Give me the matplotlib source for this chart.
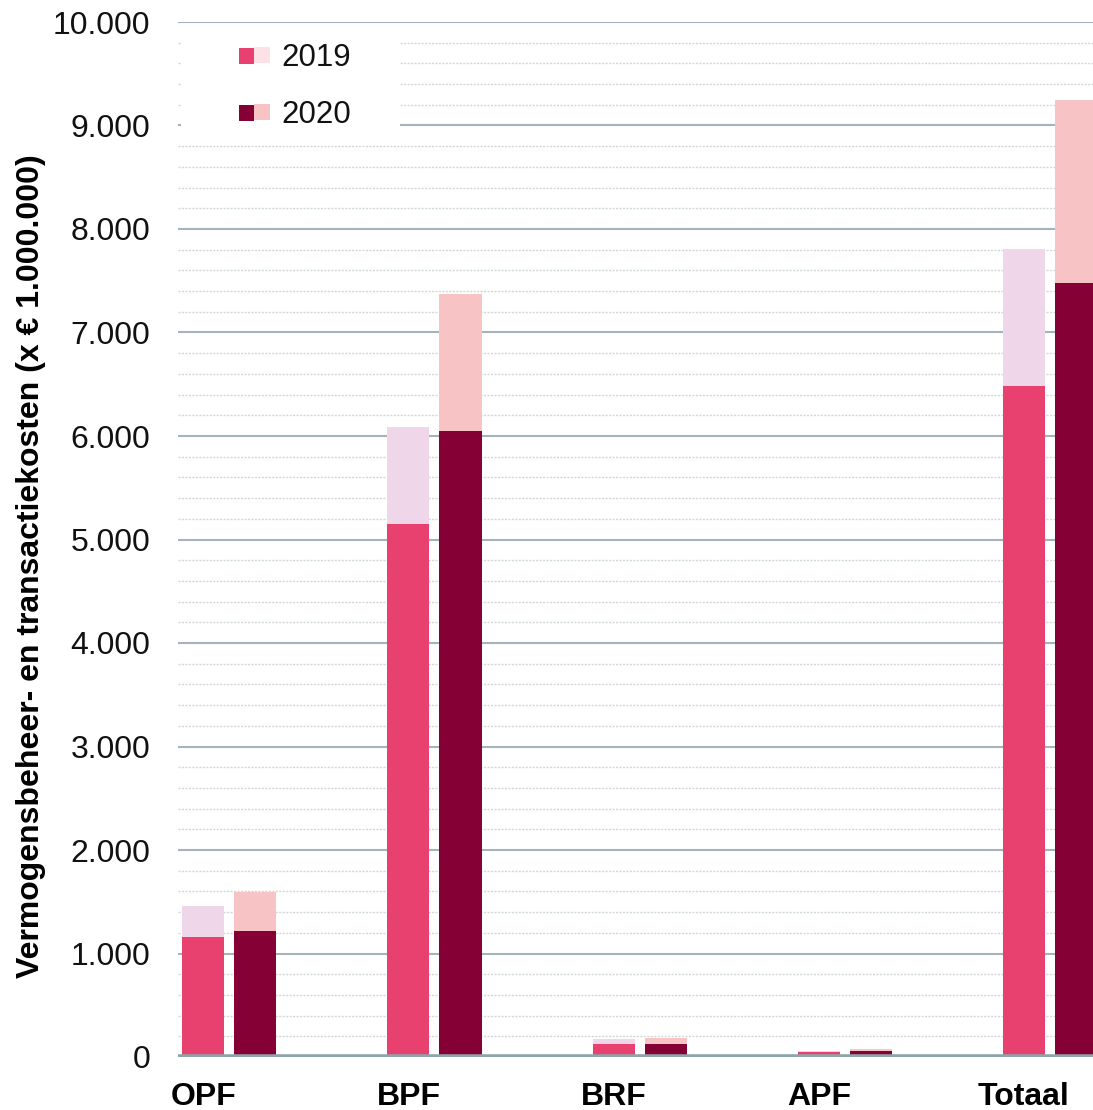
import matplotlib
matplotlib.use("Agg")
import matplotlib.pyplot as plt
from matplotlib.patches import Rectangle
from matplotlib.ticker import FuncFormatter, MultipleLocator
import numpy as np

plt.rcParams['font.family'] = ['Liberation Sans', 'DejaVu Sans']

categories = ["OPF", "BPF", "BRF", "APF", "Totaal"]
base_2019 = [1158, 5145, 123, 45, 6486]
total_2019 = [1457, 6091, 171, 55, 7809]
base_2020 = [1216, 6052, 130, 58, 7481]
total_2020 = [1593, 7375, 180, 80, 9247]
years = ["2019", "2020"]

c19_dark = "#E8406F"
c19_light = "#EFD7E9"
c19_leg_light = "#FCE1E7"
c20_dark = "#850034"
c20_light = "#F8C3C4"

W, H = 1093, 1110
fig = plt.figure(figsize=(W/100, H/100), dpi=100)
ax = fig.add_axes([178/W, 1-1057/H, (W-178)/W, (1057-22)/H])

x = np.arange(len(categories))
w = 0.205
off = 0.127
b19 = np.array(base_2019); t19 = np.array(total_2019)
b20 = np.array(base_2020); t20 = np.array(total_2020)

ax.bar(x - off, b19, w, color=c19_dark, zorder=3)
ax.bar(x - off, t19 - b19, w, bottom=b19, color=c19_light, zorder=3)
ax.bar(x + off, b20, w, color=c20_dark, zorder=3)
ax.bar(x + off, t20 - b20, w, bottom=b20, color=c20_light, zorder=3)

ax.set_xlim(-0.25, 4.21)
ax.set_ylim(0, 10000)
ax.yaxis.set_major_locator(MultipleLocator(1000))
ax.yaxis.set_minor_locator(MultipleLocator(200))
ax.yaxis.set_major_formatter(FuncFormatter(lambda v, p: f"{int(v):,}".replace(",", ".")))
ax.grid(axis='y', which='major', color='#A3B5B9', linewidth=1.5, zorder=0)
ax.grid(axis='y', which='minor', color='#D0D7D9', linewidth=1.0, linestyle=(0, (1.5, 1)), zorder=0)
ax.set_axisbelow(True)
ax.axhline(0, color='#8EA5AA', linewidth=4, zorder=4)
for s in ax.spines.values():
    s.set_visible(False)
ax.tick_params(axis='both', which='both', length=0)
ax.tick_params(axis='y', labelsize=23, pad=20, labelcolor='#111111')
ax.set_xticks(x - off)
ax.set_xticklabels(categories, fontsize=23, fontweight='bold')
ax.tick_params(axis='x', pad=18)

fig.text(31/W, 1-566/H, "Vermogensbeheer- en transactiekosten (x € 1.000.000)",
         rotation=90, ha='center', va='center', fontsize=23, fontweight='bold')

# legend drawn manually (white box covering gridlines)
def fx(px): return px / W
def fy(py): return 1 - py / H

fig.patches.append(Rectangle((fx(181), fy(131)), fx(400) - fx(181), fy(30) - fy(131),
                             transform=fig.transFigure, facecolor='white', edgecolor='none', zorder=5))
leg_rows = [(c19_dark, c19_leg_light, 55), (c20_dark, c20_light, 112)]
for (cd, cl, yc), label in zip(leg_rows, years):
    fig.patches.append(Rectangle((fx(239), fy(yc + 8.5)), 15/W, 16/H, transform=fig.transFigure,
                                 facecolor=cd, edgecolor='none', zorder=6))
    fig.patches.append(Rectangle((fx(254), fy(yc + 7.5)), 16/W, 16/H, transform=fig.transFigure,
                                 facecolor=cl, edgecolor='none', zorder=6))
    fig.text(fx(281), fy(yc + 3), label, ha='left', va='center', fontsize=22.5, color='#111111', zorder=7)

fig.savefig("out.png", dpi=100)
